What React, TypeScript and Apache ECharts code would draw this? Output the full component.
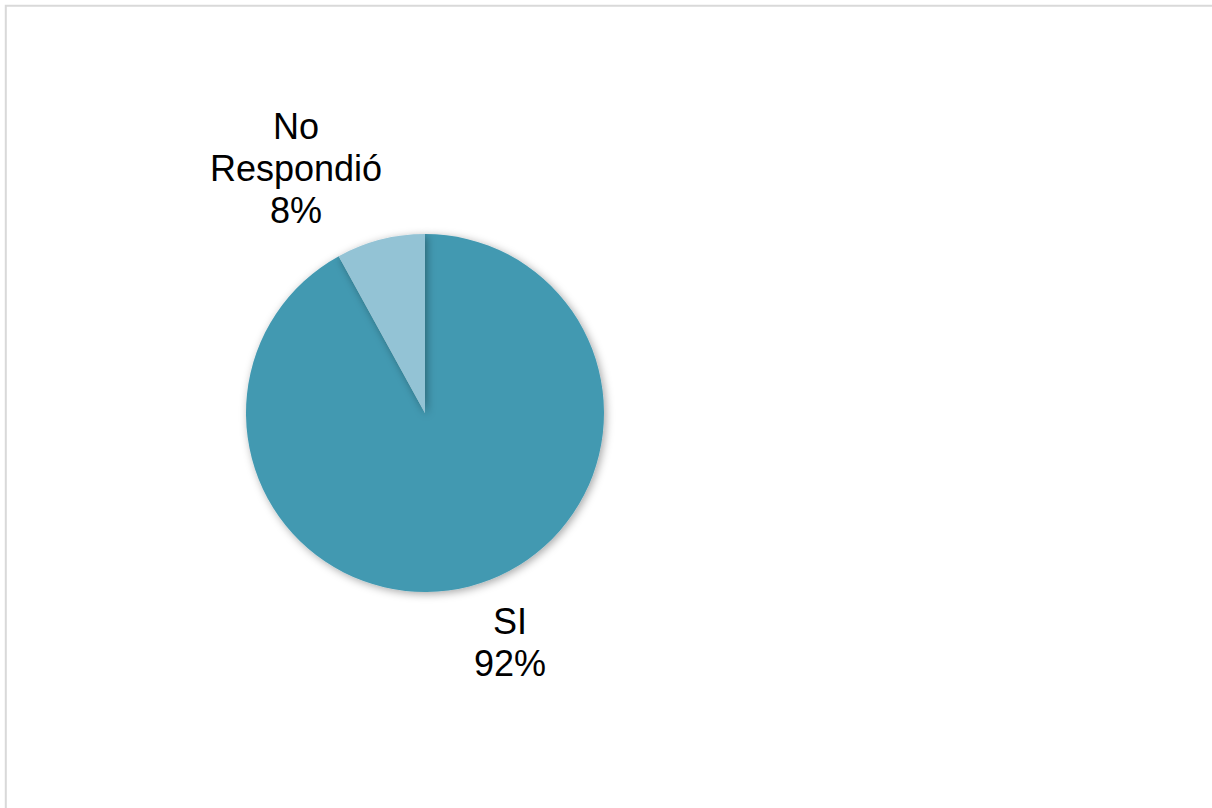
import React, { useEffect, useRef } from "react";
import * as echarts from "echarts";

const categories = ["SI", "No Respondió"];
const values = [92, 8];
const colors = ["#4399B1", "#93C3D5"];

export default function App() {
  const ref = useRef<HTMLDivElement>(null);
  useEffect(() => {
    document.body.style.margin = "0";
    const chart = echarts.init(ref.current!, null, { renderer: "svg" });
    chart.setOption({
      animation: false,
      backgroundColor: "#ffffff",
      graphic: [
        {
          type: "rect",
          shape: { x: 5.8, y: 5.8, width: 1240, height: 840 },
          style: { fill: "none", stroke: "#d9d9d9", lineWidth: 2 },
          silent: true,
        },
      ],
      series: [
        {
          type: "pie",
          center: [425, 413],
          radius: 179,
          startAngle: 90,
          clockwise: true,
          data: categories.map((c, i) => ({
            name: c,
            value: values[i],
            itemStyle: { color: colors[i] },
          })),
          itemStyle: {
            shadowBlur: 8,
            shadowColor: "rgba(0,0,0,0.35)",
            shadowOffsetX: 2,
            shadowOffsetY: 2,
          },
          label: {
            show: true,
            position: "outside",
            formatter: (p: any) => `${p.name.replace(" ", "\n")}\n${p.value}%`,
            fontFamily: "'Liberation Sans', Arial, sans-serif",
            fontSize: 36,
            lineHeight: 42,
            color: "#000000",
            align: "center",
          },
          labelLine: { show: false },
          labelLayout: (params: any) => {
            if (params.dataIndex === 0) {
              return { x: 510, y: 642, align: "center", verticalAlign: "middle" };
            }
            return { x: 296, y: 168, align: "center", verticalAlign: "middle" };
          },
          emphasis: { disabled: true },
        },
      ],
    });
    return () => chart.dispose();
  }, []);
  return <div ref={ref} style={{ width: 1212, height: 808 }} />;
}
